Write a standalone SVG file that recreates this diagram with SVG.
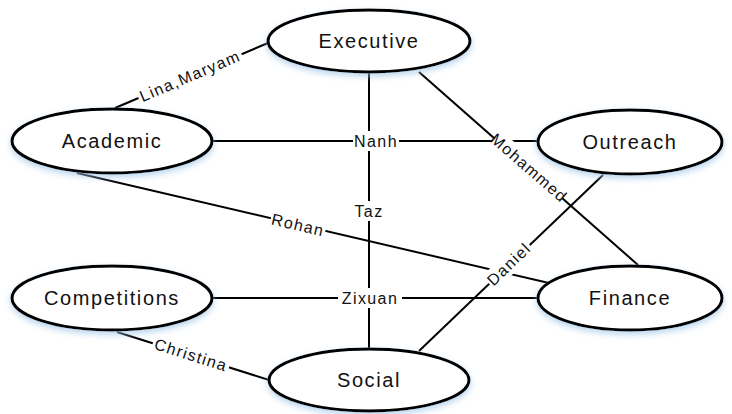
<svg xmlns="http://www.w3.org/2000/svg" width="732" height="414" viewBox="0 0 732 414">
<defs>
<filter id="glow" x="-20%" y="-30%" width="140%" height="170%">
<feGaussianBlur in="SourceAlpha" stdDeviation="3" result="b"/>
<feOffset in="b" dx="0" dy="3" result="o"/>
<feFlood flood-color="#9cc3e6" flood-opacity="0.7"/>
<feComposite in2="o" operator="in" result="s"/>
<feMerge><feMergeNode in="s"/><feMergeNode in="SourceGraphic"/></feMerge>
</filter>
</defs>
<style>
.node ellipse{fill:#fff;stroke:#000;stroke-width:3;filter:url(#glow)}
.node text{font-family:"Liberation Sans",Arial,sans-serif;font-size:20px;letter-spacing:1.6px;fill:#111;text-anchor:middle;dominant-baseline:central}
.edges line{stroke:#000;stroke-width:2}
.lbl rect{fill:#fff}
.lbl text{font-family:"Liberation Sans",Arial,sans-serif;font-size:16px;letter-spacing:1.4px;fill:#111;text-anchor:middle;dominant-baseline:central}
</style>
<rect width="732" height="414" fill="#fff"/>
<g id="connectors" class="edges">
<line x1="115" y1="108" x2="268" y2="43"/>
<line x1="212" y1="141" x2="539" y2="141"/>
<line x1="369" y1="72" x2="369" y2="349"/>
<line x1="419" y1="72" x2="638" y2="265"/>
<line x1="77" y1="173" x2="549" y2="283"/>
<line x1="603" y1="175" x2="419" y2="351"/>
<line x1="212" y1="298" x2="539" y2="298"/>
<line x1="117" y1="332" x2="269" y2="380"/>
<g class="lbl">
<g transform="translate(190,76) rotate(-23)"><rect x="-56" y="-10" width="112" height="20"/><text x="0" y="0">Lina,Maryam</text></g>
<g transform="translate(376,141)"><rect x="-23" y="-10" width="46" height="20"/><text x="0" y="0">Nanh</text></g>
<g transform="translate(369,211)"><rect x="-16" y="-10" width="32" height="20"/><text x="0" y="0">Taz</text></g>
<g transform="translate(529,168) rotate(41)"><rect x="-45" y="-10" width="90" height="20"/><text x="0" y="0">Mohammed</text></g>
<g transform="translate(298,225) rotate(13)"><rect x="-28" y="-10" width="56" height="20"/><text x="0" y="0">Rohan</text></g>
<g transform="translate(509,264) rotate(-44)"><rect x="-28" y="-10" width="56" height="20"/><text x="0" y="0">Daniel</text></g>
<g transform="translate(370,298)"><rect x="-32" y="-10" width="64" height="20"/><text x="0" y="0">Zixuan</text></g>
<g transform="translate(191,355) rotate(17.5)"><rect x="-40" y="-10" width="80" height="20"/><text x="0" y="0">Christina</text></g>
</g>
</g>
<g id="executive" class="node"><ellipse cx="369" cy="41" rx="101" ry="31"/><text x="369" y="41">Executive</text></g>
<g id="academic" class="node"><ellipse cx="112" cy="141" rx="100" ry="32"/><text x="112" y="141">Academic</text></g>
<g id="outreach" class="node"><ellipse cx="630" cy="142" rx="92" ry="32"/><text x="630" y="142">Outreach</text></g>
<g id="competitions" class="node"><ellipse cx="112" cy="298" rx="100" ry="32"/><text x="112" y="298">Competitions</text></g>
<g id="finance" class="node"><ellipse cx="630" cy="298" rx="92" ry="32"/><text x="630" y="298">Finance</text></g>
<g id="social" class="node"><ellipse cx="369" cy="380" rx="100" ry="31"/><text x="369" y="380">Social</text></g>
</svg>
